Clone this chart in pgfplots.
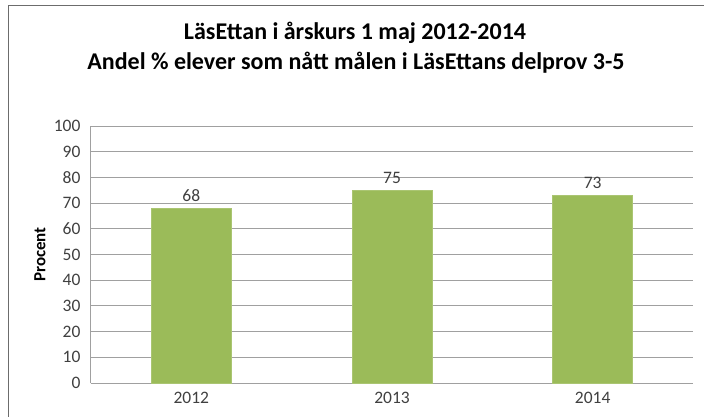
\documentclass[border=0pt]{standalone}
\usepackage{pgfplots}
\pgfplotsset{compat=1.18}
\usepackage{fontspec}
\setmainfont{Carlito}
\definecolor{bargreen}{HTML}{9BBB59}
\definecolor{gridgray}{HTML}{A0A0A0}
\definecolor{txt}{HTML}{404040}
\begin{document}
\begin{tikzpicture}
\path[use as bounding box,fill=white] (0pt,0pt) rectangle (704pt,416pt);
\draw[gray!85!black,line width=1pt] (8pt,-2pt) -- (8pt,410pt) -- (706pt,410pt);
\node[font=\bfseries\fontsize{24}{28}\selectfont, anchor=base] at (355pt,376pt) {LäsEttan i årskurs 1 maj 2012-2014};
\node[font=\bfseries\fontsize{24}{28}\selectfont, anchor=base] at (356pt,346pt) {Andel \% elever som nått målen i LäsEttans delprov 3-5};
\begin{axis}[
  at={(91pt,33pt)}, anchor=south west,
  width=602pt, height=257pt, scale only axis,
  xmin=-0.5, xmax=2.5, ymin=0, ymax=100,
  ytick={0,10,...,100},
  xtick=data, xticklabels={2012,2013,2014},
  ymajorgrids, grid style={gridgray,line width=1pt},
  axis x line*=bottom, axis y line*=left,
  axis line style={gridgray,line width=1pt},
  x axis line style={-}, y axis line style={-},
  xtick style={draw=none},
  ytick style={draw=none},
  tick label style={font=\fontsize{17.5}{20}\selectfont, text=txt},
  yticklabel style={xshift=-7pt},
  xticklabel style={yshift=-6pt},
  /pgf/number format/assume math mode=true,
  ylabel={\textbf{Procent}},
  ylabel style={font=\fontsize{17}{20}\selectfont, at={(axis description cs:-0.085,0.5)}, anchor=center},
  every node near coord/.append style={font=\fontsize{17.5}{20}\selectfont, text=txt, yshift=3pt},
  nodes near coords,
]
\addplot[ybar, bar width=80pt, fill=bargreen, draw=bargreen!85!white] coordinates {(0,68) (1,75) (2,73)};
\end{axis}
\end{tikzpicture}
\end{document}
